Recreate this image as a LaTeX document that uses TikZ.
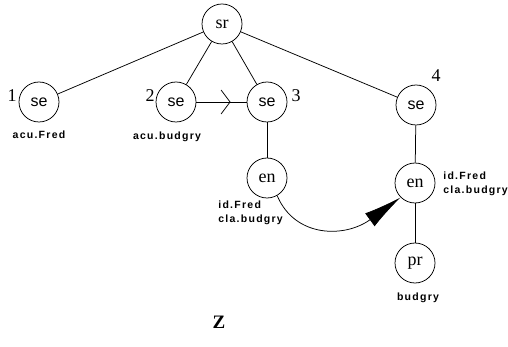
\documentclass[tikz,border=0pt]{standalone}
\usepackage{fontspec}
\setmainfont{Liberation Serif}
\newfontfamily\sefont{Liberation Sans}
\newfontfamily\labfont[LetterSpace=12]{Liberation Sans}
\usetikzlibrary{arrows.meta,decorations.markings}
\begin{document}
\begin{tikzpicture}[x=1pt,y=-1pt,line width=0.75pt,
  nd/.style={circle,draw,minimum size=40pt,inner sep=0pt,font=\fontsize{18}{18}\selectfont},
  sen/.style={nd,font=\sefont\fontsize{16}{16}\selectfont},
  num/.style={font=\fontsize{18}{18}\selectfont},
  tag/.style={font=\labfont\bfseries\fontsize{10.5}{14}\selectfont,align=left,inner sep=0pt},
  midarrow/.style={decoration={markings,mark=at position 0.68 with {\arrow{Straight Barb[length=9pt,width=24pt,line width=0.75pt]}}},postaction={decorate}}]
\useasboundingbox (0,0) rectangle (508,347);
\node[nd] (sr) at (222,24) {sr};
\node[sen] (se1) at (39,102) {se};
\node[sen] (se2) at (176,102) {se};
\node[sen] (se3) at (267,102) {se};
\node[sen] (se4) at (416,105) {se};
\node[nd] (enL) at (267,178) {en};
\node[nd] (enR) at (415,183) {en};
\node[nd] (pr) at (415,263) {pr};
\node[num] (n1) at (12,96) {1};
\node[num] (n2) at (150,96) {2};
\node[num] (n3) at (296,96) {3};
\node[num] (n4) at (436,76) {4};
\node[tag] (t1) at (39,135) {acu.Fred};
\node[tag] (t2) at (167,137) {acu.budgry};
\node[tag,anchor=north west] (t3) at (218,201) {id.Fred\\cla.budgry};
\node[tag,anchor=north west] (t4) at (443,172) {id.Fred\\cla.budgry};
\node[tag] (t5) at (418,298) {budgry};
\node[font=\bfseries\fontsize{19}{19}\selectfont] (z) at (219,322) {Z};
\draw (sr) -- (se1);
\draw (sr) -- (se2);
\draw (sr) -- (se3);
\draw (sr) -- (se4);
\draw[midarrow] (se2) -- (se3);
\draw (se3) -- (enL);
\draw (se4) -- (enR);
\draw (enR) -- (pr);
\draw[-{Latex[length=38pt,width=16pt]}] (enL.300) .. controls (295,238) and (345,238) .. (enR.225);
\end{tikzpicture}
\end{document}
